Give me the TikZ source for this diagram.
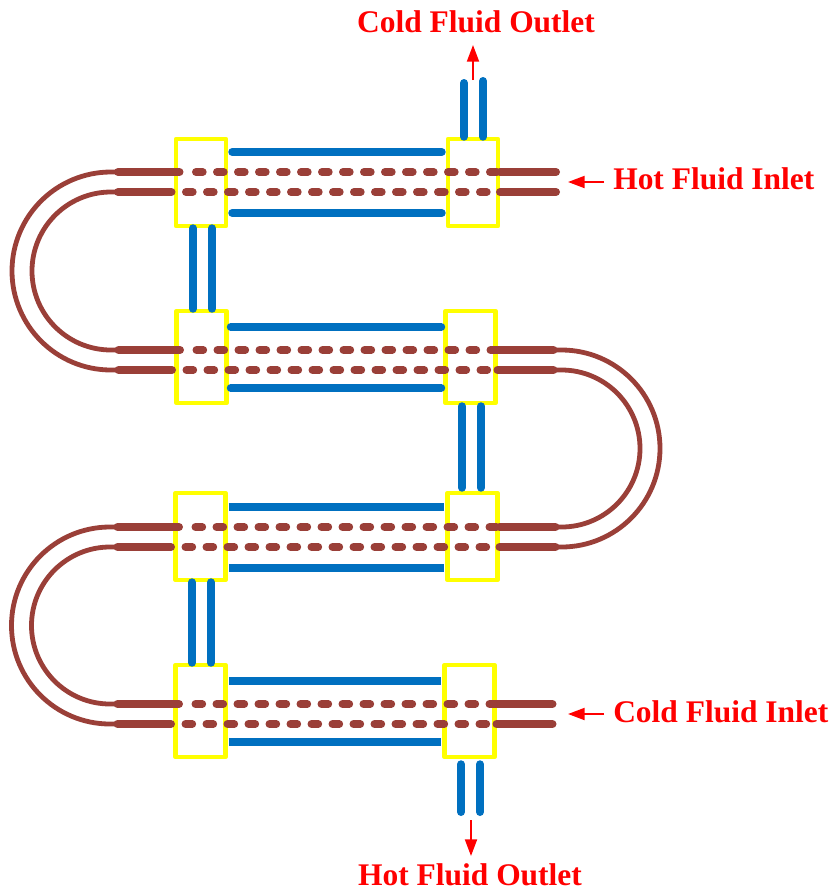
\documentclass[tikz,border=0pt]{standalone}
\usepackage{fontspec}
\setmainfont{Liberation Serif}
\usetikzlibrary{arrows.meta,calc}
\definecolor{pipebrown}{HTML}{9A3F38}
\definecolor{pipeblue}{HTML}{0070C0}
\definecolor{hdr}{HTML}{FFFF00}
\begin{document}
\begin{tikzpicture}[x=0.75pt,y=-0.75pt,
  header/.style={draw=hdr,line width=3.4pt,line join=round,minimum width=37.5pt,inner sep=0pt},
  shell/.style={draw=pipeblue,line width=6pt,line cap=round},
  hot/.style={draw=pipebrown,line width=6pt,line cap=round},
  hotin/.style={hot,dash pattern=on 5pt off 10.75pt},
  ubend/.style={draw=pipebrown,line width=3.6pt},
  flow/.style={draw=red,line width=1.5pt,-{Triangle[length=12.5pt,width=9pt]}},
  lab/.style={text=red,font=\bfseries\fontsize{23.6}{24}\selectfont,inner sep=0pt}]
\useasboundingbox (0,0) rectangle (833,890);
% headers
\node[header,minimum height=65.25pt] (L1) at (201,182.5) {};
\node[header,minimum height=65.25pt] (R1) at (473,182.5) {};
\node[header,minimum height=69pt] (L2) at (201.5,357) {};
\node[header,minimum height=69pt] (R2) at (470.5,357) {};
\node[header,minimum height=65.25pt] (L3) at (200.5,536.5) {};
\node[header,minimum height=65.25pt] (R3) at (472.5,536.5) {};
\node[header,minimum height=69pt] (L4) at (200.5,711) {};
\node[header,minimum height=69pt] (R4) at (469.5,711) {};
% labels
\node[lab,anchor=base] (coldout) at (476,32) {Cold Fluid Outlet};
\node[lab,anchor=base west] (hotin) at (613,189) {Hot Fluid Inlet};
\node[lab,anchor=base west] (coldin) at (613,722) {Cold Fluid Inlet};
\node[lab,anchor=base] (hotout) at (470,885) {Hot Fluid Outlet};
% shell pipes
\draw[shell] ([shift={(4,-30.5)}]L1.east) -- ([shift={(-4,-30.5)}]R1.west);
\draw[shell] ([shift={(4,30.5)}]L1.east) -- ([shift={(-4,30.5)}]R1.west);
\draw[shell] ([shift={(2,-30)}]L2.east) -- ([shift={(-2,-30)}]R2.west);
\draw[shell] ([shift={(2,31)}]L2.east) -- ([shift={(-2,31)}]R2.west);
\draw[shell,line cap=butt] ([shift={(1,-30)}]L3.east) -- ([shift={(-1,-30)}]R3.west);
\draw[shell,line cap=butt] ([shift={(1,31)}]L3.east) -- ([shift={(-1,31)}]R3.west);
\draw[shell,line cap=butt] ([shift={(1,-30)}]L4.east) -- ([shift={(-1,-30)}]R4.west);
\draw[shell,line cap=butt] ([shift={(1,31)}]L4.east) -- ([shift={(-1,31)}]R4.west);
% shell connections
\coordinate (topa) at (464,83);
\coordinate (topb) at (483,81);
\coordinate (bota) at (461,812);
\coordinate (botb) at (480,812);
\draw[shell] (topa) -- (topa |- R1.north);
\draw[shell] (topb) -- (topb |- R1.north);
\draw[shell] ($(L1.south)+(-8,0)$) -- ($(L2.north)+(-8.5,0)$);
\draw[shell] ($(L1.south)+(11,0)$) -- ($(L2.north)+(10.5,0)$);
\draw[shell] ($(R2.south)+(-8.5,1)$) -- ($(R3.north)+(-10.5,-3)$);
\draw[shell] ($(R2.south)+(10.5,1)$) -- ($(R3.north)+(8.5,-3)$);
\draw[shell] ($(L3.south)+(-8.5,0)$) -- ($(L4.north)+(-8.5,0)$);
\draw[shell] ($(L3.south)+(10.5,0)$) -- ($(L4.north)+(10.5,0)$);
\draw[shell] ($(R4.south)+(-8.5,5)$) -- (bota);
\draw[shell] ($(R4.south)+(10.5,5)$) -- (botb);
% hot inner pipes: stubs and dashes
\foreach \lb/\rb/\up/\lo in {L1/R1/-10.5/9.5, L2/R2/-7/13, L3/R3/-9.5/10.5, L4/R4/-7/13}{
  \draw[hot] ($(\lb.center)+(-83,\up)$) -- ($(\lb.center)+(-21.5,\up)$);
  \draw[hot] ($(\lb.center)+(-83,\lo)$) -- ($(\lb.center)+(-29.5,\lo)$);
  \draw[hotin] ($(\lb.center)+(-5,\up)$) -- ($(\rb.center)+(26,\up)$);
  \draw[hotin] ($(\lb.center)+(-15,\lo)$) -- ($(\rb.center)+(26,\lo)$);
  \draw[hot] ($(\rb.center)+(27,\up)$) -- ($(\rb.center)+(83,\up)$);
  \draw[hot] ($(\rb.center)+(27,\lo)$) -- ($(\rb.center)+(83,\lo)$);
}
% return bends
\coordinate (a1) at (118,172); \coordinate (b1) at (118,370);
\coordinate (c1) at (118,192); \coordinate (d1) at (118,350);
\coordinate (a2) at (553,350); \coordinate (b2) at (553,547);
\coordinate (c2) at (553,370); \coordinate (d2) at (553,527);
\coordinate (a3) at (116,527); \coordinate (b3) at (116,724);
\coordinate (c3) at (116,547); \coordinate (d3) at (116,704);
\draw[ubend] (a1) -- (111,172) arc[start angle=270,end angle=90,radius=99] -- (b1);
\draw[ubend] (c1) -- (111,192) arc[start angle=270,end angle=90,radius=79] -- (d1);
\draw[ubend] (a2) -- (561.5,350) arc[start angle=-90,end angle=90,radius=98.5] -- (b2);
\draw[ubend] (c2) -- (561.5,370) arc[start angle=-90,end angle=90,radius=78.5] -- (d2);
\draw[ubend] (a3) -- (110,527) arc[start angle=270,end angle=90,radius=98.5] -- (b3);
\draw[ubend] (c3) -- (110,547) arc[start angle=270,end angle=90,radius=78.5] -- (d3);
% flow arrows
\coordinate (f1) at (473,80); \coordinate (f2) at (604,182);
\coordinate (f3) at (604,714); \coordinate (f4) at (471,820);
\draw[flow] (f1) -- (473,45);
\draw[flow] (f2) -- (568,182);
\draw[flow] (f3) -- (568,714);
\draw[flow] (f4) -- (471,856);
\end{tikzpicture}
\end{document}
